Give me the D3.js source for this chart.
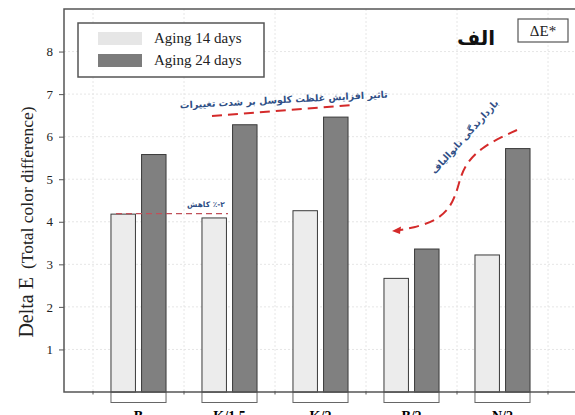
<!DOCTYPE html>
<html>
<head>
<meta charset="utf-8">
<script src="https://cdn.jsdelivr.net/npm/d3@7"></script>
<style>
body { margin: 0; background: #fff; }
svg { display: block; }
</style>
</head>
<body>
<div id="chart"></div>
<script>
var categories = ["B", "K/1.5", "K/2", "B/2", "N/2"];
var series = ["Aging 14 days", "Aging 24 days"];
var aging14 = [4.18, 4.09, 4.26, 2.67, 3.22];
var aging24 = [5.58, 6.28, 6.46, 3.36, 5.72];
var yTicks = [1, 2, 3, 4, 5, 6, 7, 8];

var width = 575, height = 415;
var plotLeft = 64, plotTop = 9, plotBottom = 392;
var colors = ["#ececec", "#808080"];
var serif = "'Liberation Serif', 'Times New Roman', serif";

var svg = d3.select("#chart").append("svg")
	.attr("width", width)
	.attr("height", height);

var y = d3.scaleLinear().domain([0, 9]).range([plotBottom, plotTop]);
var x = d3.scaleBand().domain(categories).range([93, 548]);
var groupW = x.bandwidth() * 0.605;
var x1 = d3.scaleBand().domain(series).range([0, groupW]).paddingInner(0.2);

// faint grid
var grid = svg.append("g").attr("stroke", "#e6e6e6").attr("stroke-dasharray", "2,2");
grid.selectAll("line.h").data(yTicks).enter().append("line")
	.attr("x1", plotLeft).attr("x2", width)
	.attr("y1", function(d){ return y(d); })
	.attr("y2", function(d){ return y(d); });
var xEdges = categories.map(function(c){ return x(c); }).concat([x.range()[1]]);
grid.selectAll("line.v").data(xEdges).enter().append("line")
	.attr("x1", function(d){ return d; }).attr("x2", function(d){ return d; })
	.attr("y1", plotTop).attr("y2", plotBottom);

// bars
var groups = svg.selectAll("g.grp").data(categories).enter().append("g")
	.attr("class", "grp")
	.attr("transform", function(d){ return "translate(" + (x(d) + (x.bandwidth() - groupW) / 2) + ",0)"; });

groups.append("rect")
	.attr("x", 0).attr("y", plotBottom)
	.attr("width", groupW).attr("height", 10.5)
	.attr("fill", "#fff").attr("stroke", "#666").attr("stroke-width", 1);

groups.selectAll("rect.bar")
	.data(function(d, i){ return [aging14[i], aging24[i]]; })
	.enter().append("rect")
	.attr("class", "bar")
	.attr("x", function(d, j){ return x1(series[j]); })
	.attr("y", function(d){ return y(d); })
	.attr("width", x1.bandwidth())
	.attr("height", function(d){ return plotBottom - y(d); })
	.attr("fill", function(d, j){ return colors[j]; })
	.attr("stroke", "#3a3a3a")
	.attr("stroke-width", 1);

// category labels (cut by the bottom edge, as in the original)
svg.selectAll("text.cat").data(categories).enter().append("text")
	.attr("x", function(d){ return x(d) + x.bandwidth() / 2; })
	.attr("y", 421)
	.attr("text-anchor", "middle")
	.attr("font-family", serif)
	.attr("font-weight", "bold")
	.attr("font-size", 14)
	.text(function(d){ return d; });

// frame / axes
var frame = svg.append("g").attr("stroke", "#555").attr("stroke-width", 1.5).attr("fill", "none");
frame.append("path").attr("d", "M" + width + "," + plotTop + "H" + plotLeft + "V" + plotBottom + "H" + width);

var yAxis = d3.axisLeft(y).tickValues(yTicks).tickSize(5).tickPadding(6);
var gy = svg.append("g").attr("transform", "translate(" + plotLeft + ",0)").call(yAxis)
	.attr("font-family", serif).attr("font-size", 13);
gy.select(".domain").remove();
gy.selectAll("line").attr("stroke", "#555");
gy.selectAll("text").attr("fill", "#222");

svg.append("g").selectAll("line").data(xEdges).enter().append("line")
	.attr("x1", function(d){ return d; }).attr("x2", function(d){ return d; })
	.attr("y1", plotBottom - 1).attr("y2", plotBottom + 2.5)
	.attr("stroke", "#555");

// y label
var yl = svg.append("text")
	.attr("transform", "translate(33,222) rotate(-90)")
	.attr("text-anchor", "middle")
	.attr("font-family", serif)
	.attr("fill", "#222");
yl.append("tspan").attr("font-size", 20).text("Delta E");
yl.append("tspan").attr("font-size", 17.5).attr("dx", 8).text("(Total color difference)");

// legend
var lg = svg.append("g");
lg.append("rect").attr("x", 78).attr("y", 23).attr("width", 186).attr("height", 54)
	.attr("fill", "#fff").attr("stroke", "#555").attr("stroke-width", 1.5);
series.forEach(function(s, i){
	lg.append("rect").attr("x", 98).attr("y", 32 + i * 22).attr("width", 44).attr("height", 13)
		.attr("fill", i == 0 ? "#e6e6e6" : "#7c7c7c");
	lg.append("text").attr("x", 154).attr("y", 43 + i * 22)
		.attr("font-family", serif).attr("font-size", 15).attr("fill", "#222")
		.text(s);
});

// title and ΔE* box
svg.append("text").attr("x", 476).attr("y", 45).attr("text-anchor", "middle")
	.attr("font-family", "'DejaVu Sans', sans-serif").attr("font-weight", "bold")
	.attr("font-size", 20).attr("fill", "#111").text("الف");
svg.append("rect").attr("x", 518).attr("y", 19).attr("width", 50).attr("height", 23)
	.attr("fill", "#fff").attr("stroke", "#555").attr("stroke-width", 1.2);
svg.append("text").attr("x", 543).attr("y", 36).attr("text-anchor", "middle")
	.attr("font-family", serif).attr("font-size", 15).attr("fill", "#222").text("ΔE*");

// annotations
var blue = "#2f4f86", red = "#d42a2a";
var persian = "'DejaVu Sans', 'Noto Sans', sans-serif";

svg.append("line").attr("x1", 212).attr("y1", 116).attr("x2", 354).attr("y2", 105)
	.attr("stroke", red).attr("stroke-width", 2).attr("stroke-dasharray", "10,6");
svg.append("text").attr("transform", "translate(284,103) rotate(-3)")
	.attr("text-anchor", "middle").attr("direction", "rtl")
	.attr("font-family", persian).attr("font-weight", "bold").attr("font-size", 9.5)
	.attr("fill", blue).text("تاثیر افزایش غلظت کلوسل بر شدت تغییرات");

svg.append("line").attr("x1", 116).attr("y1", y(aging14[0]) - 0.5).attr("x2", 228).attr("y2", y(aging14[0]) - 0.5)
	.attr("stroke", "#c0505a").attr("stroke-width", 1.3).attr("stroke-dasharray", "6,4");
svg.append("text").attr("x", 206).attr("y", 207).attr("text-anchor", "middle")
	.attr("direction", "rtl")
	.attr("font-family", persian).attr("font-weight", "bold").attr("font-size", 7.5)
	.attr("fill", blue).text("۲-٪ کاهش");

var curvePts = [[517, 130], [482, 146], [463, 167], [458, 188], [451, 207], [436, 221], [412, 228], [400, 230]];
svg.append("path")
	.attr("d", d3.line().curve(d3.curveBasis)(curvePts))
	.attr("fill", "none").attr("stroke", red).attr("stroke-width", 2).attr("stroke-dasharray", "10,6");
svg.append("path").attr("d", "M392,231 L401,226.5 L400,234 Z").attr("fill", red);
svg.append("text").attr("transform", "translate(467,139) rotate(-48)")
	.attr("text-anchor", "middle").attr("direction", "rtl")
	.attr("font-family", persian).attr("font-weight", "bold").attr("font-size", 9.5)
	.attr("fill", blue).text("بازدارندگی نانوالیاف");
</script>
</body>
</html>
